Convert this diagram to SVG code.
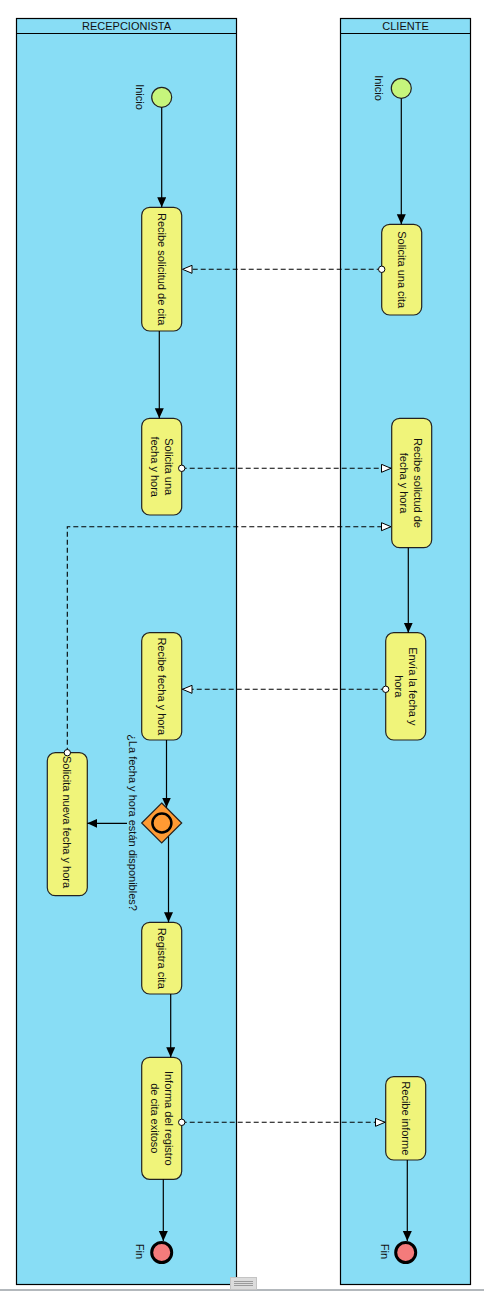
<svg xmlns="http://www.w3.org/2000/svg" width="484" height="1291" viewBox="0 0 484 1291">
  <style>
    text { font-family: "Liberation Sans", Arial, sans-serif; font-size: 11px; fill: #111; }
    .pool { fill: #88DDF5; stroke: #000; stroke-width: 1.2; }
    .task { fill: #F0F47A; stroke: #222; stroke-width: 1.2; }
    .start { fill: #C6F57C; stroke: #222; stroke-width: 1.2; }
    .end { fill: #F47B7B; stroke: #000; stroke-width: 3; }
    .gw { fill: #FF9A33; stroke: #222; stroke-width: 1.2; }
    .seq { fill: none; stroke: #000; stroke-width: 1.2; marker-end: url(#arrow); }
    .msg { fill: none; stroke: #000; stroke-width: 1.1; stroke-dasharray: 5 3; marker-start: url(#dot); marker-end: url(#open); }
    .lbl { text-anchor: middle; dominant-baseline: central; }
  </style>
  <defs>
    <marker id="arrow" markerUnits="userSpaceOnUse" markerWidth="12" markerHeight="10" refX="10" refY="4.5" orient="auto">
      <path d="M0,0 L10,4.5 L0,9 z" fill="#000"/>
    </marker>
    <marker id="open" markerUnits="userSpaceOnUse" markerWidth="12" markerHeight="10" refX="10.5" refY="4.5" orient="auto">
      <path d="M0.5,0.5 L10,4.5 L0.5,8.5 z" fill="#fff" stroke="#000" stroke-width="1"/>
    </marker>
    <marker id="dot" markerUnits="userSpaceOnUse" markerWidth="10" markerHeight="10" refX="5" refY="5" orient="auto">
      <circle cx="5" cy="5" r="3.2" fill="#fff" stroke="#000" stroke-width="1"/>
    </marker>
  </defs>

  <rect width="484" height="1291" fill="#fff"/>

  <!-- pools -->
  <g id="pool-recepcionista">
    <rect class="pool" x="16.5" y="18.5" width="220" height="1266"/>
    <line x1="16.5" y1="33.5" x2="236.5" y2="33.5" stroke="#000" stroke-width="1.2"/>
    <text x="126.5" y="26" class="lbl">RECEPCIONISTA</text>
  </g>
  <g id="pool-cliente">
    <rect class="pool" x="340.5" y="18.5" width="130" height="1266"/>
    <line x1="340.5" y1="33.5" x2="470.5" y2="33.5" stroke="#000" stroke-width="1.2"/>
    <text x="405.5" y="26" class="lbl">CLIENTE</text>
  </g>

  <!-- events -->
  <g id="inicio-recepcionista">
    <circle class="start" cx="161.7" cy="97.3" r="10"/>
    <text class="lbl" transform="translate(140 97) rotate(90)">Inicio</text>
  </g>
  <g id="inicio-cliente">
    <circle class="start" cx="401.3" cy="88.3" r="10"/>
    <text class="lbl" transform="translate(378.5 88) rotate(90)">Inicio</text>
  </g>
  <g id="fin-recepcionista">
    <circle class="end" cx="161.7" cy="1252.5" r="10"/>
    <text class="lbl" transform="translate(139.5 1251.5) rotate(90)">Fin</text>
  </g>
  <g id="fin-cliente">
    <circle class="end" cx="405.7" cy="1252.5" r="10"/>
    <text class="lbl" transform="translate(384.5 1251.5) rotate(90)">Fin</text>
  </g>

  <!-- tasks: recepcionista -->
  <g id="recibe-solicitud-cita">
    <rect class="task" x="141.7" y="207.3" width="40" height="123.7" rx="8"/>
    <text class="lbl" transform="translate(161.7 269.2) rotate(90)">Recibe solicitud de cita</text>
  </g>
  <g id="solicita-fecha-hora">
    <rect class="task" x="141.7" y="418.3" width="40" height="96.7" rx="8"/>
    <text class="lbl" transform="translate(161.7 466.7) rotate(90)"><tspan x="0" y="-7">Solicita una</tspan><tspan x="0" y="7">fecha y hora</tspan></text>
  </g>
  <g id="recibe-fecha-hora">
    <rect class="task" x="141.7" y="632.7" width="40" height="107.3" rx="8"/>
    <text class="lbl" transform="translate(161.7 686.3) rotate(90)">Recibe fecha y hora</text>
  </g>
  <g id="gateway-disponible">
    <path class="gw" d="M161.7,803 L181.7,823 L161.7,843 L141.7,823 z"/>
    <circle cx="161.9" cy="823" r="9.5" fill="none" stroke="#000" stroke-width="2.5"/>
    <text class="lbl" transform="translate(133 822.5) rotate(90)">¿La fecha y hora están disponibles?</text>
  </g>
  <g id="solicita-nueva-fecha">
    <rect class="task" x="47.3" y="752.7" width="40" height="143" rx="8"/>
    <text class="lbl" transform="translate(67.3 822) rotate(90)">Solicita nueva fecha y hora</text>
  </g>
  <g id="registra-cita">
    <rect class="task" x="141.7" y="922.3" width="40" height="71.7" rx="8"/>
    <text class="lbl" transform="translate(161.7 958.2) rotate(90)">Registra cita</text>
  </g>
  <g id="informa-registro">
    <rect class="task" x="141.7" y="1057.3" width="40" height="122" rx="8"/>
    <text class="lbl" transform="translate(161.7 1118.3) rotate(90)"><tspan x="0" y="-7">Informa del registro</tspan><tspan x="0" y="7">de cita exitoso</tspan></text>
  </g>

  <!-- tasks: cliente -->
  <g id="solicita-cita">
    <rect class="task" x="381.7" y="224.3" width="40" height="90.7" rx="8"/>
    <text class="lbl" transform="translate(401.7 269.7) rotate(90)">Solicita una cita</text>
  </g>
  <g id="recibe-solictud-fecha">
    <rect class="task" x="391.7" y="418.3" width="40" height="129.4" rx="8"/>
    <text class="lbl" transform="translate(411.2 483) rotate(90)"><tspan x="0" y="-7">Recibe solictud de</tspan><tspan x="0" y="7">fecha y hora</tspan></text>
  </g>
  <g id="envia-fecha-hora">
    <rect class="task" x="385.7" y="632.7" width="40" height="107.3" rx="8"/>
    <text class="lbl" transform="translate(405.5 686.3) rotate(90)"><tspan x="0" y="-7">Envía la fecha y</tspan><tspan x="0" y="7">hora</tspan></text>
  </g>
  <g id="recibe-informe">
    <rect class="task" x="385.7" y="1076.7" width="40" height="83.3" rx="8"/>
    <text class="lbl" transform="translate(405.7 1118.3) rotate(90)">Recibe informe</text>
  </g>

  <!-- connectors: sequence flows (solid) and message flows (dashed) -->
  <g id="connectors">
    <path class="seq" d="M161.7,107.5 V207.3"/>
    <path class="seq" d="M159.3,331 V418.3"/>
    <path class="seq" d="M166.5,740 V807.5"/>
    <path class="seq" d="M127,823.3 H87.3"/>
    <path class="seq" d="M168.5,836.5 V922.3"/>
    <path class="seq" d="M170.7,994 V1057.3"/>
    <path class="seq" d="M163.3,1179.3 V1241"/>
    <path class="seq" d="M401.3,98.5 V224.3"/>
    <path class="seq" d="M408.3,547.7 V632.7"/>
    <path class="seq" d="M407.3,1160 V1241"/>

    <path class="msg" d="M381.7,269.3 H182"/>
    <path class="msg" d="M181.7,468.3 H391.5"/>
    <path class="msg" d="M67.3,752.7 V526.7 H391.5"/>
    <path class="msg" d="M385.7,689.3 H182"/>
    <path class="msg" d="M181.7,1122.3 H385.5"/>
  </g>

  <!-- bottom splitter bar -->
  <line x1="0" y1="1290" x2="484" y2="1290" stroke="#9aa0a6" stroke-width="1.5"/>
  <rect x="230.5" y="1277.5" width="26" height="12" fill="#dcdcdc" stroke="#c4c4c4"/>
  <path d="M234,1281.5 H253 M234,1283.5 H253 M234,1285.5 H253" stroke="#8a8a8a" stroke-width="0.8"/>
</svg>
